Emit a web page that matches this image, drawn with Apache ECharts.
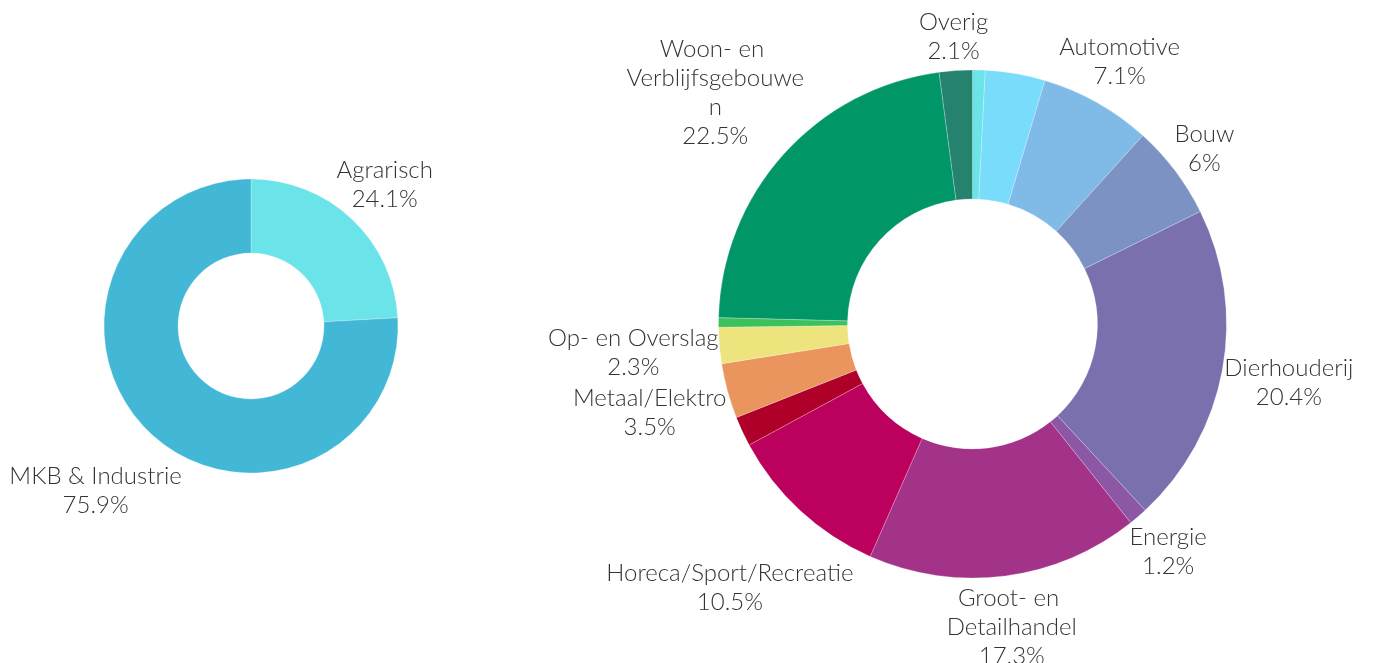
<!DOCTYPE html>
<html>
<head>
<meta charset="utf-8">
<style>
  html, body { margin: 0; padding: 0; background: #fff; }
  #chart { width: 1379px; height: 663px; }
</style>
<script src="https://cdn.jsdelivr.net/npm/echarts@6/dist/echarts.min.js"></script>
</head>
<body>
<div id="chart"></div>
<script>
// linker donut
const groupNames = ['Agrarisch', 'MKB & Industrie'];
const groupValues = [24.1, 75.9];
const groupColors = ['#6ae4e8', '#43b8d6'];

// rechter donut (sectoren zonder label zijn smalle restposten)
const sectorNames = [
  'Chemie', 'Logistiek', 'Automotive', 'Bouw', 'Dierhouderij', 'Energie',
  'Groot- en Detailhandel', 'Horeca/Sport/Recreatie', 'Kantoren',
  'Metaal/Elektro', 'Op- en Overslag', 'Zorg',
  'Woon- en Verblijfsgebouwen', 'Overig'
];
const sectorValues = [0.8, 3.8, 7.1, 6, 20.4, 1.2, 17.3, 10.5, 1.9, 3.5, 2.3, 0.6, 22.5, 2.1];
const sectorShowLabel = [false, false, true, true, true, true, true, true, false, true, true, false, true, true];
const sectorColors = [
  '#6ae4e6', '#79dcfb', '#80bae6', '#7b92c3', '#7a70ae', '#8c58a5',
  '#a33289', '#bb005d', '#ae0029', '#ea955e', '#ede47e', '#3cc15c',
  '#009668', '#25826f'
];

const labelFont = {
  fontFamily: 'Lato, "Open Sans", sans-serif',
  fontWeight: 300,
  fontSize: 24,
  lineHeight: 29,
  color: '#333'
};

// label-midden op de straal door het midden van het segment, net buiten de rand
function radialLabels(values, cx, cy, r) {
  const total = values.reduce((a, b) => a + b, 0);
  return function (params) {
    let before = 0;
    for (let i = 0; i < params.dataIndex; i++) before += values[i];
    const mid = (before + values[params.dataIndex] / 2) / total * Math.PI * 2;
    const sx = Math.sin(mid);
    const sy = -Math.cos(mid);
    const a = params.labelRect.width / 2 * Math.abs(sx);
    const b = params.labelRect.height / 2 * Math.abs(sy);
    // onderste helft: rand van het kader tegen de ring; bovenste helft iets dichterbij
    const dist = sy > 0 ? r - 1 + a + b : r + 4 + (a + b + Math.max(a, b)) / 2;
    return { x: cx + dist * sx, y: cy + dist * sy, align: 'center', verticalAlign: 'middle' };
  };
}

const left = { cx: 251, cy: 326, r0: 73, r: 147 };
const right = { cx: 972.5, cy: 324, r0: 125, r: 254 };

const chart = echarts.init(document.getElementById('chart'));

chart.setOption({
  animation: false,
  series: [
    {
      type: 'pie',
      center: [left.cx, left.cy],
      radius: [left.r0, left.r],
      avoidLabelOverlap: false,
      silent: true,
      itemStyle: { borderColor: 'rgba(255,255,255,0.6)', borderWidth: 0.4 },
      label: Object.assign({ position: 'outside', formatter: p => p.name + '\n' + p.value + '%' }, labelFont),
      labelLine: { show: false },
      labelLayout: radialLabels(groupValues, left.cx, left.cy, left.r),
      data: groupNames.map((n, i) => ({ name: n, value: groupValues[i], itemStyle: { color: groupColors[i] } }))
    },
    {
      type: 'pie',
      center: [right.cx, right.cy],
      radius: [right.r0, right.r],
      avoidLabelOverlap: false,
      silent: true,
      itemStyle: { borderColor: 'rgba(255,255,255,0.6)', borderWidth: 0.4 },
      label: Object.assign({ position: 'outside', formatter: p => p.name + '\n' + p.value + '%' }, labelFont),
      labelLine: { show: false },
      labelLayout: radialLabels(sectorValues, right.cx, right.cy, right.r),
      data: sectorNames.map((n, i) => {
        const item = { name: n, value: sectorValues[i], itemStyle: { color: sectorColors[i] } };
        if (!sectorShowLabel[i]) item.label = { show: false };
        else if (n === 'Woon- en Verblijfsgebouwen') item.label = { width: 184, overflow: 'break' };
        else if (n === 'Groot- en Detailhandel') item.label = { width: 150, overflow: 'break' };
        return item;
      })
    }
  ]
});
</script>
</body>
</html>
